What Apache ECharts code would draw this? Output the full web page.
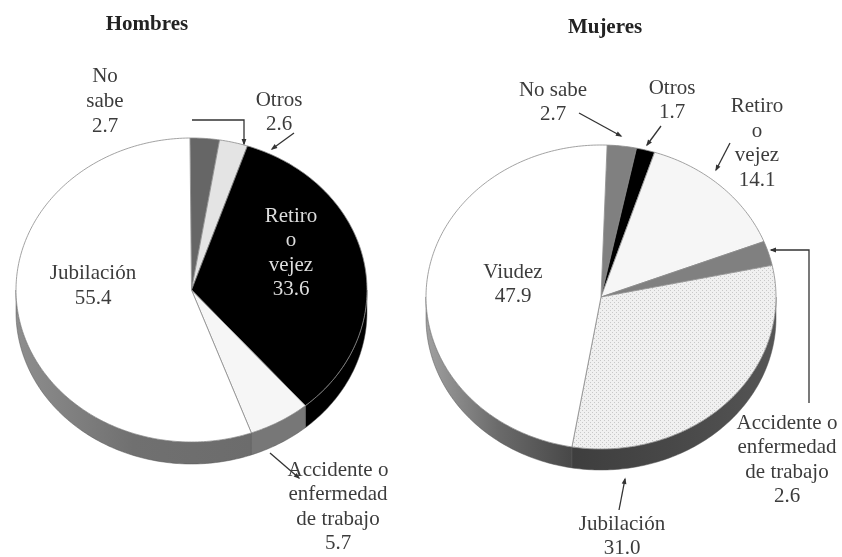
<!DOCTYPE html>
<html><head><meta charset="utf-8">
<script src="https://cdn.jsdelivr.net/npm/echarts@6/dist/echarts.min.js"></script>
<style>html,body{margin:0;padding:0;background:#fff}#c{width:842px;height:557px}#c canvas{filter:blur(0.5px)}</style>
</head><body><div id="c"></div>
<script>
// ---- data ----
const categoriesH = ['No sabe', 'Otros', 'Retiro o vejez', 'Accidente o enfermedad de trabajo', 'Jubilación'];
const valuesH = [2.7, 2.6, 33.6, 5.7, 55.4];
const categoriesM = ['No sabe', 'Otros', 'Retiro o vejez', 'Accidente o enfermedad de trabajo', 'Jubilación', 'Viudez'];
const valuesM = [2.7, 1.7, 14.1, 2.6, 31.0, 47.9];

// ---- text breaks ----
const linesH = ['No\nsabe', 'Otros', 'Retiro\no\nvejez', 'Accidente o\nenfermedad\nde trabajo', 'Jubilación'];
const linesM = ['No sabe', 'Otros', 'Retiro\no\nvejez', 'Accidente o\nenfermedad\nde trabajo', 'Jubilación', 'Viudez'];

// ---- layout and style ----
const dotted = document.createElement('canvas');
dotted.width = dotted.height = 4;
(function () {
  const g = dotted.getContext('2d');
  g.fillStyle = '#f0f0f0'; g.fillRect(0, 0, 4, 4);
  g.fillStyle = '#c8c8c8'; g.fillRect(0, 0, 1, 1); g.fillRect(2, 2, 1, 1);
})();
const grad = (a, b, c) => ({type: 'linear', x: 0, y: 0, x2: 1, y2: 0, colorStops: [
  {offset: 0, color: a}, {offset: 0.5, color: b}, {offset: 1, color: c}]});

const pies = [
  {cx: 191.5, cy: 290, rx: 175.5, ry: 152, depth: 22, start: -0.5, values: valuesH,
   fills: ['#666666', '#e4e4e4', '#000000', '#f6f6f6', '#ffffff'],
   walls: ['#666666', '#e4e4e4', '#000000', '#777777', grad('#8e8e8e', '#707070', '#6c6c6c')]},
  {cx: 601, cy: 297, rx: 175, ry: 152, depth: 21, start: 2, values: valuesM,
   fills: ['#808080', '#000000', '#f6f6f6', '#808080', {image: dotted, repeat: 'repeat'}, '#ffffff'],
   walls: ['#808080', '#000000', '#f6f6f6', '#808080', grad('#3e3e3e', '#484848', '#555555'), grad('#a0a0a0', '#6a6a6a', '#484848')]}
];

const labels = [
  {x: 105, y: 101.5, text: linesH[0] + '\n' + valuesH[0].toFixed(1)},
  {x: 279, y: 112.5, text: linesH[1] + '\n' + valuesH[1].toFixed(1)},
  {x: 291, y: 253, text: linesH[2] + '\n' + valuesH[2].toFixed(1), fill: '#dddddd'},
  {x: 338, y: 507, text: linesH[3] + '\n' + valuesH[3].toFixed(1)},
  {x: 93, y: 286, text: linesH[4] + '\n' + valuesH[4].toFixed(1)},
  {x: 553, y: 102.5, text: linesM[0] + '\n' + valuesM[0].toFixed(1)},
  {x: 672, y: 100.5, text: linesM[1] + '\n' + valuesM[1].toFixed(1)},
  {x: 757, y: 143.5, text: linesM[2] + '\n' + valuesM[2].toFixed(1)},
  {x: 787, y: 460, text: linesM[3] + '\n' + valuesM[3].toFixed(1)},
  {x: 622, y: 536.5, text: linesM[4] + '\n' + valuesM[4].toFixed(1)},
  {x: 513, y: 284.5, text: linesM[5] + '\n' + valuesM[5].toFixed(1)}
];
const titles = [{x: 147, y: 25, text: 'Hombres'}, {x: 605, y: 28, text: 'Mujeres'}];
const leaders = [
  [[192, 120], [244, 120], [244, 144]],
  [[294, 133], [272, 149]],
  [[270, 453], [299, 478]],
  [[579, 113], [621, 136]],
  [[661, 126], [647, 145]],
  [[730, 143], [716, 170]],
  [[809, 403], [809, 250], [771, 250]],
  [[619, 510], [625, 479]]
];
const FONT = '"Liberation Serif", "Times New Roman", serif';

function makeSeries(pie, gridIndex) {
  const total = pie.values.reduce((a, b) => a + b, 0);
  const cum = [0];
  pie.values.forEach(v => cum.push(cum[cum.length - 1] + v));
  const dy = pie.depth / pie.ry;
  return {
    type: 'custom', xAxisIndex: gridIndex, yAxisIndex: gridIndex, silent: true, clip: false,
    data: pie.values.map((v, i) => [i, v]),
    encode: {x: 0, y: 1},
    renderItem(params, api) {
      const i = api.value(0);
      const a0 = pie.start + cum[i] / total * 360;
      const a1 = pie.start + (cum[i] + api.value(1)) / total * 360;
      const pt = (deg, off) => {
        const r = deg * Math.PI / 180;
        return api.coord([Math.sin(r), Math.cos(r) - (off || 0)]);
      };
      const children = [];
      const w0 = Math.max(a0, 90), w1 = Math.min(a1, 270);
      if (w1 > w0) {
        const top = [], bottom = [];
        for (let d = w0; d < w1; d += 1) { top.push(pt(d)); bottom.unshift(pt(d, dy)); }
        top.push(pt(w1)); bottom.unshift(pt(w1, dy));
        children.push({type: 'polygon', shape: {points: top.concat(bottom)},
          style: {fill: pie.walls[i], stroke: '#555555', lineWidth: 0.5}});
      }
      const face = [api.coord([0, 0])];
      for (let d = a0; d < a1; d += 1) face.push(pt(d));
      face.push(pt(a1));
      children.push({type: 'polygon', z2: 5, shape: {points: face},
        style: {fill: pie.fills[i], stroke: '#8c8c8c', lineWidth: 0.8}});
      return {type: 'group', children};
    }
  };
}

const graphics = [];
labels.forEach(l => graphics.push({type: 'text', x: l.x, y: l.y, z: 20, silent: true,
  style: {text: l.text, fill: l.fill || '#3c3c3c', font: '21px ' + FONT, align: 'center', verticalAlign: 'middle', lineHeight: 24.6}}));
titles.forEach(t => graphics.push({type: 'text', x: t.x, y: t.y, z: 20, silent: true,
  style: {text: t.text, fill: '#222222', font: 'bold 21px ' + FONT, align: 'center', verticalAlign: 'middle'}}));
leaders.forEach(p => {
  graphics.push({type: 'polyline', z: 15, silent: true, shape: {points: p},
    style: {stroke: '#333333', lineWidth: 1.3, fill: null}});
  const e = p[p.length - 1], s = p[p.length - 2];
  const a = Math.atan2(e[1] - s[1], e[0] - s[0]), L = 5, W = 2.4;
  graphics.push({type: 'polygon', z: 15, silent: true, shape: {points: [
    [e[0] + 1.5 * Math.cos(a), e[1] + 1.5 * Math.sin(a)],
    [e[0] - L * Math.cos(a) - W * Math.sin(a), e[1] - L * Math.sin(a) + W * Math.cos(a)],
    [e[0] - L * Math.cos(a) + W * Math.sin(a), e[1] - L * Math.sin(a) - W * Math.cos(a)]
  ]}, style: {fill: '#333333'}});
});

const chart = echarts.init(document.getElementById('c'), null, {renderer: 'canvas'});
chart.setOption({
  animation: false,
  backgroundColor: '#ffffff',
  grid: pies.map(p => ({left: p.cx - p.rx, top: p.cy - p.ry, width: 2 * p.rx, height: 2 * p.ry})),
  xAxis: pies.map((p, i) => ({type: 'value', gridIndex: i, min: -1, max: 1, show: false})),
  yAxis: pies.map((p, i) => ({type: 'value', gridIndex: i, min: -1, max: 1, show: false})),
  series: pies.map(makeSeries),
  graphic: graphics
});
</script></body></html>
